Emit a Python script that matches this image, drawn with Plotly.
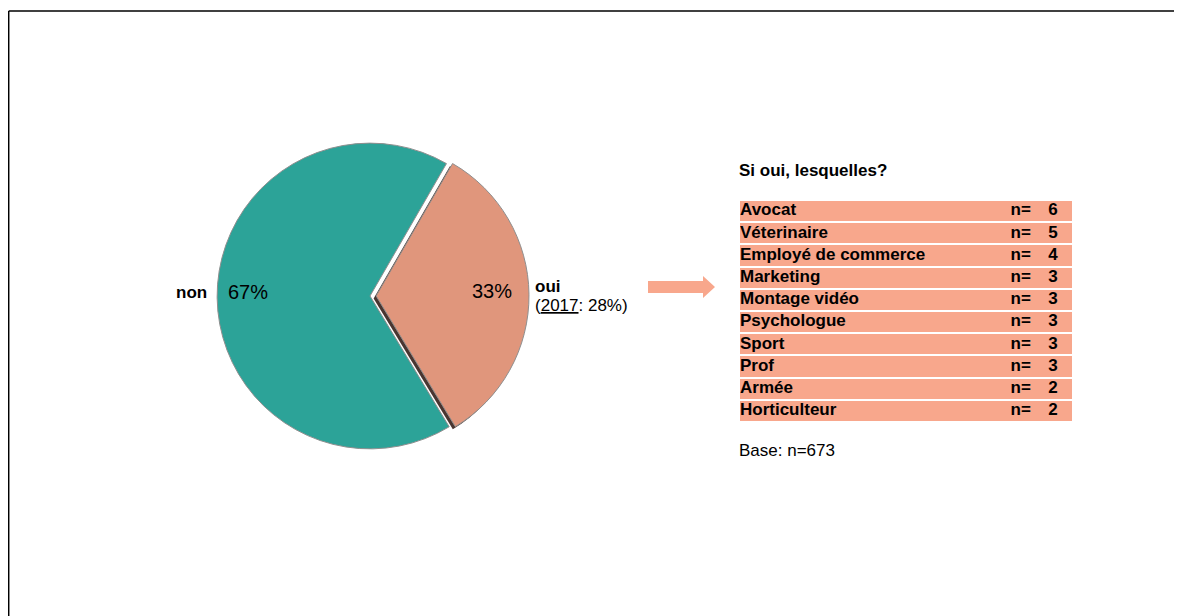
import plotly.graph_objects as go

# page body adds an 8px margin, so the figure is a bit smaller than the window
OFF = 8
W, H = 1182 - OFF, 616 - OFF

# pie data
pie_labels = ['oui', 'non']
pie_values = [33, 67]
prev_year = 2017
prev_oui = 28

# table data
jobs = ['Avocat', 'Véterinaire', 'Employé de commerce', 'Marketing', 'Montage vidéo',
        'Psychologue', 'Sport', 'Prof', 'Armée', 'Horticulteur']
counts = [6, 5, 4, 3, 3, 3, 3, 3, 2, 2]
base_n = 673

COLORS = {
    'non': '#2ca398',
    'oui': '#e0967c',
    'row': '#f8a78c',
    'shadow': '#4a3530',
    'edge': '#8f8f8f',
}
FONT = 'Arial, Liberation Sans, sans-serif'


def px(x):
    # screen pixel -> paper x
    return (x - OFF) / W


def py(y):
    # screen pixel -> paper y
    return 1 - (y - OFF) / H


# pie geometry (screen pixels)
cx, cy, half = 370, 296, 159
pie_dom = dict(x=[px(cx - half), px(cx + half)], y=[py(cy + half), py(cy - half)])
sh = 2.5
shadow_dom = dict(x=[px(cx - half - sh), px(cx + half - sh)],
                  y=[py(cy + half + sh), py(cy - half + sh)])

fig = go.Figure()

# shadow under the pulled slice
fig.add_trace(go.Pie(
    labels=pie_labels, values=pie_values, sort=False, direction='clockwise',
    rotation=30, pull=[0.04, 0], textinfo='none', hoverinfo='skip',
    marker=dict(colors=[COLORS['shadow'], 'rgba(0,0,0,0)'], line=dict(width=0)),
    domain=shadow_dom, showlegend=False,
))

fig.add_trace(go.Pie(
    labels=pie_labels, values=pie_values, sort=False, direction='clockwise',
    rotation=30, pull=[0.04, 0], textinfo='none',
    marker=dict(colors=[COLORS['oui'], COLORS['non']],
                line=dict(color=COLORS['edge'], width=1)),
    domain=pie_dom, showlegend=False,
))

# table rows as a one-column heatmap with white gaps
fig.add_trace(go.Heatmap(
    z=[[c] for c in counts], y=jobs, x=[0.5],
    colorscale=[[0, COLORS['row']], [1, COLORS['row']]],
    showscale=False, ygap=2, hoverinfo='skip',
))
fig.add_trace(go.Scatter(
    x=[0.0] * len(jobs), y=jobs, mode='text', text=jobs,
    textposition='middle right', textfont=dict(family=FONT, size=17, color='black'),
    texttemplate='<b>%{text}</b>', hoverinfo='skip', showlegend=False,
))
fig.add_trace(go.Scatter(
    x=[0.815] * len(jobs), y=jobs, mode='text', text=['n='] * len(jobs),
    textposition='middle right', textfont=dict(family=FONT, size=17, color='black'),
    texttemplate='<b>%{text}</b>', hoverinfo='skip', showlegend=False,
))
fig.add_trace(go.Scatter(
    x=[0.943] * len(jobs), y=jobs, mode='text', text=[str(c) for c in counts],
    textposition='middle center', textfont=dict(family=FONT, size=17, color='black'),
    texttemplate='<b>%{text}</b>', hoverinfo='skip', showlegend=False,
))

fig.update_xaxes(domain=[px(740), px(1072)], range=[0, 1], visible=False, fixedrange=True)
fig.update_yaxes(domain=[py(422), py(200)], autorange='reversed', visible=False,
                 fixedrange=True)

annots = [
    dict(x=px(191), y=py(292), text='<b>non</b>', font=dict(size=17)),
    dict(x=px(248), y=py(292), text=f'{pie_values[1]}%', font=dict(size=20)),
    dict(x=px(492), y=py(291), text=f'{pie_values[0]}%', font=dict(size=20)),
    dict(x=px(533), y=py(286), text='<b>oui</b>', font=dict(size=17), xanchor='left'),
    dict(x=px(533), y=py(306), text=f'(<u>{prev_year}</u>: {prev_oui}%)',
         font=dict(size=17), xanchor='left'),
    dict(x=px(737), y=py(170), text='<b>Si oui, lesquelles?</b>', font=dict(size=17),
         xanchor='left'),
    dict(x=px(737), y=py(451), text=f'Base: n={base_n}', font=dict(size=17),
         xanchor='left'),
]
for a in annots:
    a.setdefault('xanchor', 'center')
    a['font'] = dict(family=FONT, color='black', **a['font'])
    fig.add_annotation(xref='paper', yref='paper', yanchor='middle', showarrow=False, **a)

# arrow pointing to the table
arrow = (f'M {px(648)} {py(281)} L {px(703)} {py(281)} L {px(703)} {py(276)} '
         f'L {px(715)} {py(287)} L {px(703)} {py(298)} L {px(703)} {py(293)} '
         f'L {px(648)} {py(293)} Z')
fig.add_shape(type='path', xref='paper', yref='paper', path=arrow,
              fillcolor=COLORS['row'], line=dict(width=0))

# frame lines (top and left)
fig.add_shape(type='line', xref='paper', yref='paper', x0=px(8.7), x1=1, y0=py(11), y1=py(11),
              line=dict(color='black', width=1.5))
fig.add_shape(type='line', xref='paper', yref='paper', x0=px(8.7), x1=px(8.7), y0=py(11), y1=0,
              line=dict(color='black', width=1.5))

fig.update_layout(
    width=W, height=H,
    margin=dict(l=0, r=0, t=0, b=0),
    paper_bgcolor='white', plot_bgcolor='white',
    font=dict(family=FONT, color='black'),
    showlegend=False,
)

fig.write_html("out.html")
